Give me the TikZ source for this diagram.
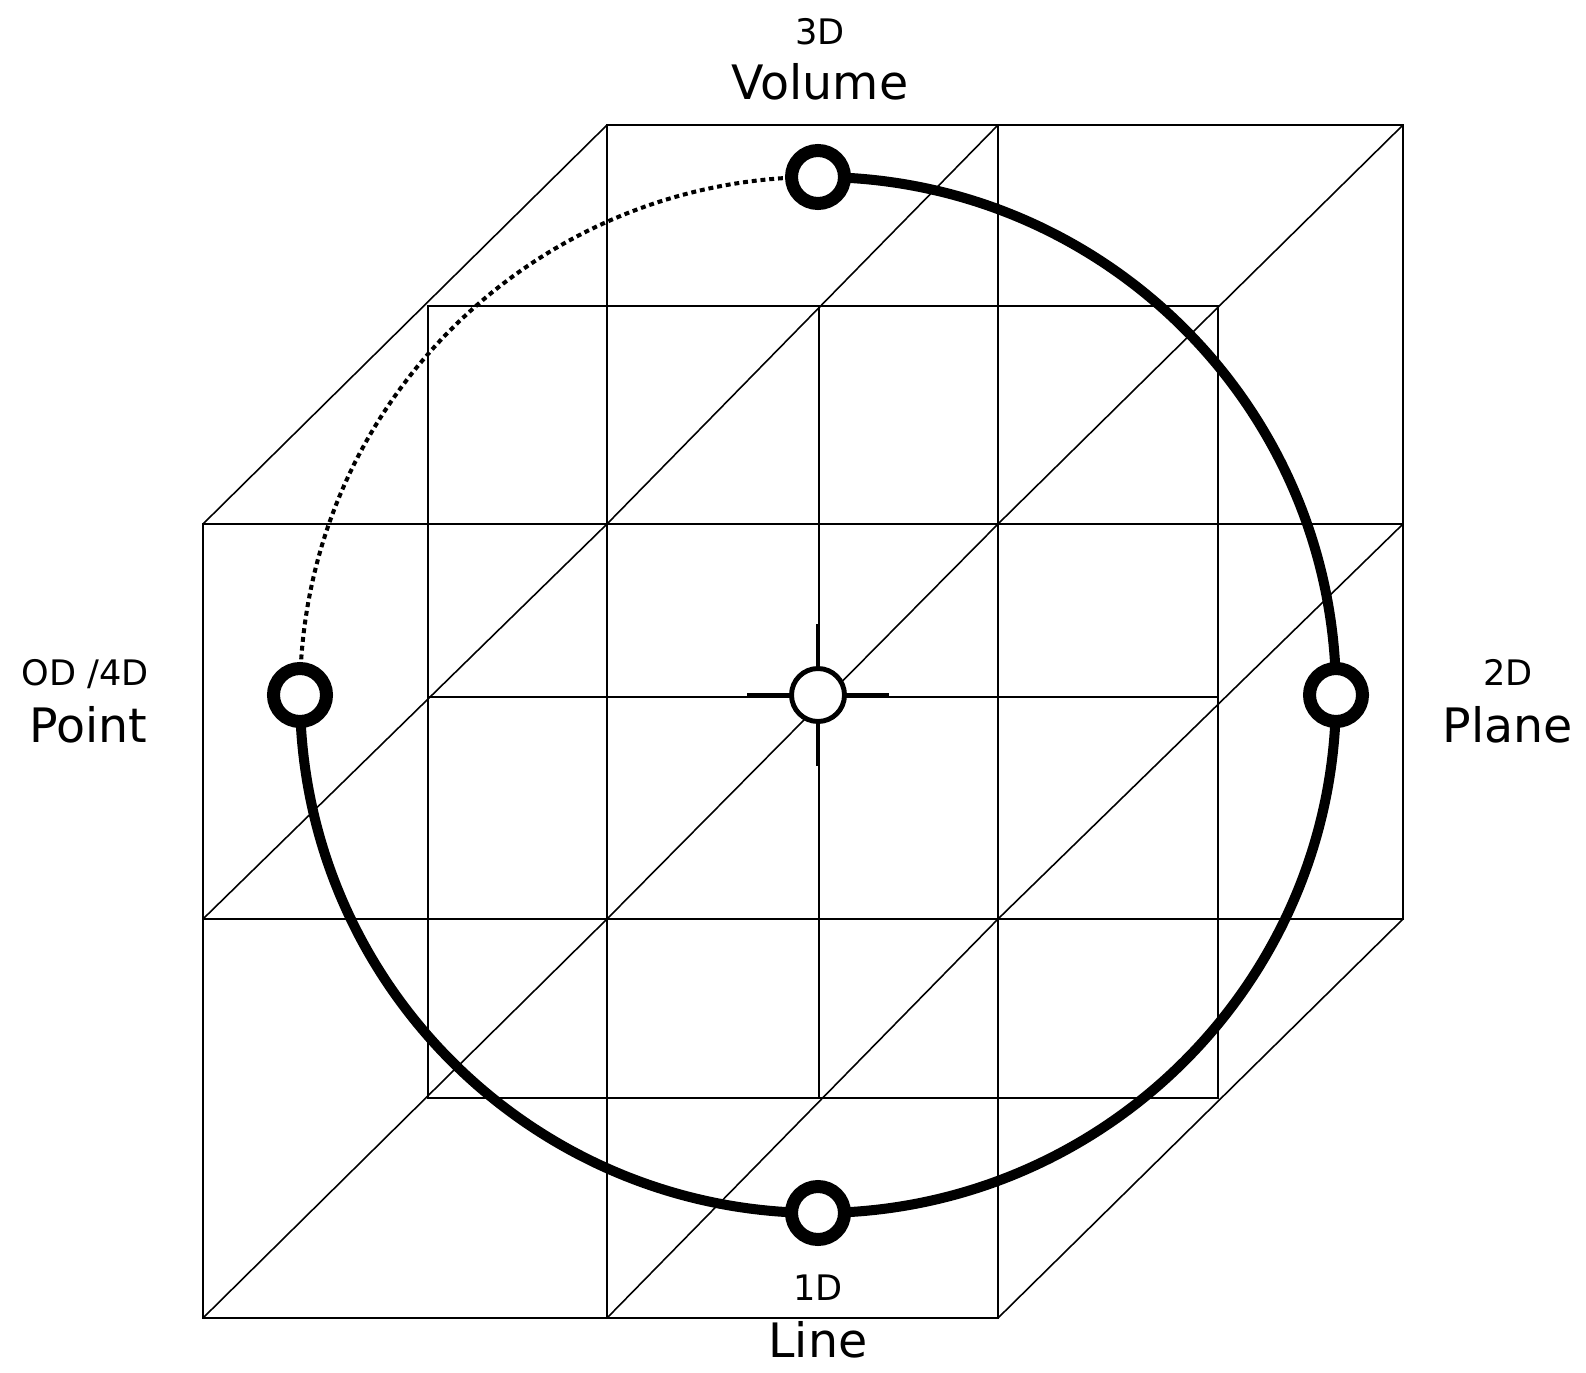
\documentclass[tikz,border=0pt]{standalone}
\usepackage{fontspec}
\setmainfont{DejaVu Sans}
\tikzset{
  gridline/.style={line width=0.45pt},
  solidring/.style={line width=2.85pt},
  dotring/.style={line width=1.15pt, dash pattern=on 1.4pt off 1.1pt},
  dimstop/.style={circle, draw, fill=white, line width=3.7pt, minimum size=5.3mm, inner sep=0pt},
  hub/.style={circle, draw, fill=white, line width=1.4pt, minimum size=5.3mm, inner sep=0pt},
  crossbar/.style={line width=1.4pt},
  dimlbl/.style={anchor=base, font=\fontsize{10}{12}\selectfont},
  namelbl/.style={anchor=base, font=\fontsize{13.5}{16}\selectfont},
}
\begin{document}
\begin{tikzpicture}[x=0.1mm, y=0.1mm]
  \useasboundingbox (0,0) rectangle (1586,-1373);
  % front face
  \draw[gridline] (203,-524) rectangle (998,-1318);
  \draw[gridline] (607,-524) -- (607,-1318);
  \draw[gridline] (203,-919) -- (998,-919);
  % middle face
  \draw[gridline] (428,-306) rectangle (1218,-1098);
  \draw[gridline] (819,-306) -- (819,-1098);
  \draw[gridline] (428,-697) -- (1218,-697);
  % back face
  \draw[gridline] (607,-125) rectangle (1403,-919);
  \draw[gridline] (998,-125) -- (998,-919);
  \draw[gridline] (607,-524) -- (1403,-524);
  % depth lines
  \draw[gridline] (203,-524) -- (607,-125);
  \draw[gridline] (203,-919) -- (607,-524);
  \draw[gridline] (203,-1318) -- (607,-919);
  \draw[gridline] (607,-524) -- (998,-125);
  \draw[gridline] (607,-919) -- (998,-524);
  \draw[gridline] (607,-1318) -- (998,-919);
  \draw[gridline] (998,-524) -- (1403,-125);
  \draw[gridline] (998,-919) -- (1403,-524);
  \draw[gridline] (998,-1318) -- (1403,-919);

  % the cycle
  \coordinate (vtop) at (818,-177);
  \draw[solidring] (vtop) arc[start angle=90, end angle=-180, radius=518];
  \draw[dotring] (vtop) arc[start angle=90, end angle=180, radius=518];

  \node[dimstop] (vol) at (818,-177) {};
  \node[dimstop] (plane) at (1336,-695) {};
  \node[dimstop] (line) at (818,-1213) {};
  \node[dimstop] (point) at (300,-695) {};

  % centre mark
  \node[hub] (ctr) at (818,-695) {};
  \draw[crossbar] (ctr.west) -- ++(-42,0);
  \draw[crossbar] (ctr.east) -- ++(42,0);
  \draw[crossbar] (ctr.north) -- ++(0,42);
  \draw[crossbar] (ctr.south) -- ++(0,-42);

  % labels
  \node[dimlbl] (l3d) at (820,-45) {3D};
  \node[namelbl] (lvol) at (820,-100) {Volume};
  \node[dimlbl] (l2d) at (1508,-685) {2D};
  \node[namelbl] (lplane) at (1508,-742) {Plane};
  \node[dimlbl] (l1d) at (818,-1300) {1D};
  \node[namelbl] (lline) at (818,-1357) {Line};
  \node[dimlbl] (l0d) at (85,-685) {OD /4D};
  \node[namelbl] (lpoint) at (88,-742) {Point};
\end{tikzpicture}
\end{document}
